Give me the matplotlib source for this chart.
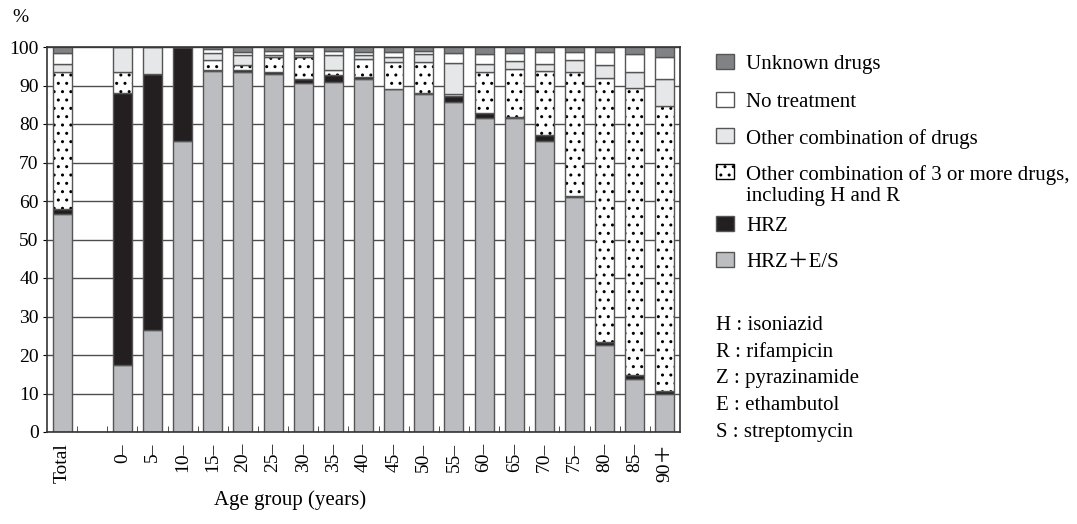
import numpy as np
import matplotlib
matplotlib.use("Agg")
import matplotlib.pyplot as plt
from matplotlib.patches import Rectangle

plt.rcParams['font.family'] = ['Liberation Serif', 'Noto Sans CJK JP']
plt.rcParams['hatch.linewidth'] = 1.0

# data (percent), bottom -> top of each stack
groups = ['Total', '0–', '5–', '10–', '15–', '20–', '25–', '30–', '35–', '40–',
          '45–', '50–', '55–', '60–', '65–', '70–', '75–', '80–', '85–', '90＋']
hrz_es = [56.5, 17.4, 26.5, 75.6, 93.8, 93.5, 92.9, 90.7, 90.8, 91.7,
          89.0, 87.8, 85.8, 81.5, 81.5, 75.7, 61.0, 22.6, 13.8, 10.0]
hrz = [1.3, 70.6, 66.5, 24.4, 0.2, 0.5, 0.5, 1.1, 1.8, 0.6,
       0.2, 0.2, 1.5, 1.3, 0.2, 1.4, 0.2, 0.9, 1.0, 0.7]
other3 = [35.6, 5.6, 0, 0, 2.6, 1.2, 4.1, 5.5, 1.3, 4.6,
          7.0, 8.2, 0.6, 10.8, 12.6, 16.7, 32.4, 68.4, 74.6, 74.0]
other = [2.1, 6.4, 7.0, 0, 1.9, 2.8, 0.5, 0.6, 4.0, 0.9,
         1.1, 1.9, 8.0, 2.1, 2.1, 1.9, 3.0, 3.3, 4.2, 7.0]
no_treat = [2.9, 0, 0, 0, 0.9, 0.6, 1.0, 1.1, 1.0, 0.8,
            1.5, 0.8, 2.5, 2.4, 2.1, 2.9, 2.1, 3.4, 4.7, 5.8]
unknown = [1.6, 0, 0, 0, 0.6, 1.4, 1.0, 1.0, 1.1, 1.4,
           1.2, 1.1, 1.6, 1.9, 1.5, 1.4, 1.3, 1.4, 1.7, 2.5]

series = [
    ('HRZ＋E/S', hrz_es, '#bcbdc0', None),
    ('HRZ', hrz, '#231f20', None),
    ('Other combination of 3 or more drugs,\nincluding H and R', other3, 'white', '..'),
    ('Other combination of drugs', other, '#e6e7e8', None),
    ('No treatment', no_treat, 'white', None),
    ('Unknown drugs', unknown, '#808285', None),
]

# one empty slot between "Total" and the age groups
pos = np.array([0] + list(range(2, len(groups) + 1)))

fig = plt.figure(figsize=(10.77, 5.24), dpi=100)
ax = fig.add_axes([47 / 1077, 92 / 524, 633 / 1077, 385 / 524])

ax.set_axisbelow(True)
ax.yaxis.grid(True, color='#4d4d4f', linewidth=1.0)

bottom = np.zeros(len(groups))
for name, vals, col, hatch in series:
    vals = np.array(vals, dtype=float)
    if hatch:
        # black dots, then the grey outline on top
        ax.bar(pos, vals, width=0.63, bottom=bottom, color=col, edgecolor='black',
               linewidth=0, hatch=hatch)
        ax.bar(pos, vals, width=0.63, bottom=bottom, fill=False, edgecolor='#555555',
               linewidth=1.0)
    else:
        ax.bar(pos, vals, width=0.63, bottom=bottom, color=col, edgecolor='#555555',
               linewidth=1.0)
    bottom += vals

ax.set_xlim(-0.5, 20.5)
ax.set_ylim(0, 100)
ax.set_yticks(range(0, 101, 10))
ax.set_xticks(pos)
ax.set_xticklabels(groups, rotation=90, fontsize=14)
ax.set_xticks(np.arange(0.5, 20.5, 1), minor=True)
ax.tick_params(axis='x', which='major', length=0, pad=8)
ax.tick_params(axis='x', which='minor', direction='in', length=4, color='#333333')
ax.tick_params(axis='y', labelsize=14, length=3, pad=3)
for s in ax.spines.values():
    s.set_color('#333333')
    s.set_linewidth(1.2)

fig.text(20 / 1077, 1 - 18 / 524, '%', fontsize=14, ha='center', va='center')
fig.text(290 / 1077, 1 - 500 / 524, 'Age group (years)', fontsize=15, ha='center', va='center')

# legend drawn by hand on the right
legend_y = [62, 100, 136, 172, 224, 260]
for (name, vals, col, hatch), y in zip(series[::-1], legend_y):
    ec = 'black' if hatch else '#555555'
    fig.patches.append(Rectangle((716 / 1077, 1 - (y + 7) / 524), 18 / 1077, 15 / 524,
                                 transform=fig.transFigure, facecolor=col,
                                 edgecolor=ec, linewidth=1.0, hatch=hatch))
    fig.text(746 / 1077, 1 - (y - 7) / 524, name, fontsize=15, ha='left', va='top',
             linespacing=1.15)

abbrev = ['H : isoniazid', 'R : rifampicin', 'Z : pyrazinamide', 'E : ethambutol',
          'S : streptomycin']
for i, t in enumerate(abbrev):
    fig.text(716 / 1077, 1 - (325 + 27 * i) / 524, t, fontsize=15, ha='left', va='center')

plt.savefig('out.png', dpi=100)
